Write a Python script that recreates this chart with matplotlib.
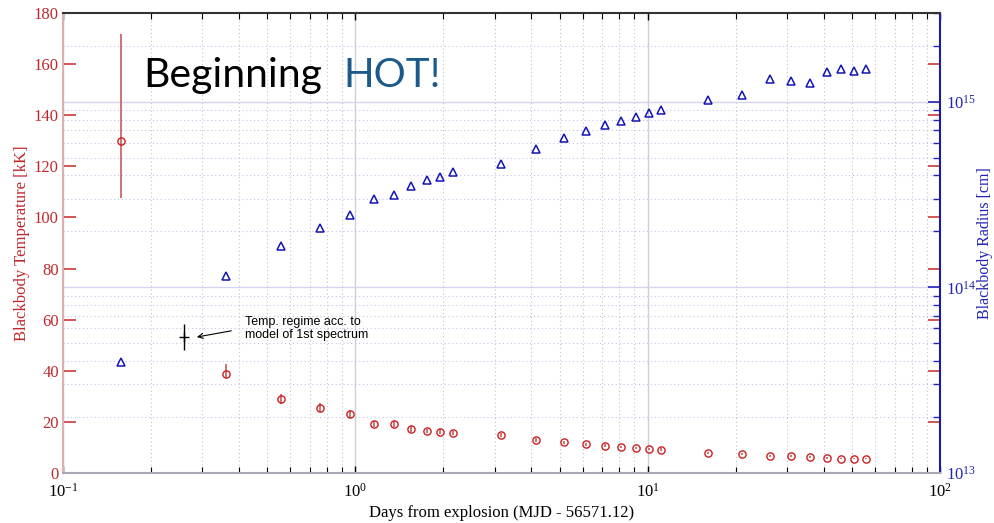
import matplotlib

matplotlib.use("Agg")

import matplotlib.pyplot as plt
from matplotlib.ticker import MultipleLocator, NullFormatter

# epochs (days since explosion)
days = [0.158, 0.360, 0.559, 0.757, 0.959, 1.159, 1.356, 1.551, 1.758, 1.948,
        2.158, 3.148, 4.147, 5.17, 6.15, 7.14, 8.10, 9.12, 10.1, 11.1,
        16.1, 21.0, 26.2, 30.9, 35.9, 41.0, 45.8, 50.8, 55.8]

# blackbody temperature [kK] with asymmetric errors
temp_kk = [130.0, 38.6, 29.0, 25.5, 23.1, 19.2, 19.2, 17.2, 16.5, 16.2,
           15.5, 14.9, 13.0, 12.0, 11.3, 10.7, 10.2, 9.7, 9.4, 9.1,
           7.8, 7.4, 6.5, 6.65, 6.26, 5.87, 5.6, 5.6, 5.6]
temp_err_lo = [22.4, 1.5, 2.0, 1.8, 1.5, 1.2, 1.2, 1.0, 0.9, 0.9,
               0.8, 0.8, 0.7, 0.6, 0.6, 0.5, 0.5, 0.5, 0.5, 0.5,
               0.4, 0.4, 0.4, 0.4, 0.4, 0.3, 0.3, 0.3, 0.3]
temp_err_hi = [41.8, 3.9, 2.0, 1.8, 1.5, 1.2, 1.2, 1.0, 0.9, 0.9,
               0.8, 0.8, 0.7, 0.6, 0.6, 0.5, 0.5, 0.5, 0.5, 0.5,
               0.4, 0.4, 0.4, 0.4, 0.4, 0.3, 0.3, 0.3, 0.3]

# blackbody radius [cm]
radius_cm = [3.96e13, 1.15e14, 1.67e14, 2.09e14, 2.45e14, 2.98e14, 3.13e14,
             3.52e14, 3.78e14, 3.93e14, 4.18e14, 4.61e14, 5.53e14, 6.34e14,
             6.92e14, 7.45e14, 7.84e14, 8.23e14, 8.65e14, 9.02e14, 1.017e15,
             1.08e15, 1.32e15, 1.29e15, 1.26e15, 1.44e15, 1.49e15, 1.46e15,
             1.49e15]

# temperature regime from the model of the first spectrum
regime_day = [0.26]
regime_temp = [53.2]
regime_err = [5.1]

RED = "#c0282d"
BLUE = "#2323b5"

plt.rcParams["font.family"] = "serif"
plt.rcParams["font.serif"] = ["Liberation Serif", "DejaVu Serif"]
plt.rcParams["mathtext.fontset"] = "stix"

fig = plt.figure(figsize=(9.95, 5.23), dpi=100)
fig.patch.set_facecolor("white")
ax = fig.add_axes([63 / 995, 50 / 523, 877 / 995, 460 / 523])
ax2 = ax.twinx()
# temperature axes on top, radius axes (with the grid) underneath
ax.set_zorder(ax2.get_zorder() + 1)
ax.patch.set_visible(False)

ax.set_xscale("log")
ax.set_xlim(0.1, 100)
ax.set_ylim(0, 180)
ax.yaxis.set_major_locator(MultipleLocator(20))
ax.xaxis.set_minor_formatter(NullFormatter())

ax2.set_yscale("log")
ax2.set_ylim(1e13, 3e15)
ax2.yaxis.set_minor_formatter(NullFormatter())

# grid lives on the lower axes
ax2.xaxis.set_visible(True)
ax2.tick_params(axis="x", which="both", bottom=False, top=False,
                labelbottom=False, labeltop=False)
ax2.grid(True, axis="x", which="major", color="#cfcfd8", lw=1.0, ls="-")
ax2.grid(True, axis="x", which="minor", color="#c4c4c8", lw=0.8, ls=(0, (1, 2.5)))
ax2.grid(True, axis="y", which="major", color="#d4d4ee", lw=1.0, ls="-")
ax2.grid(True, axis="y", which="minor", color="#c2c2e4", lw=0.8, ls=(0, (1, 2.5)))

ax2.plot(days, radius_cm, "^", ls="none", mfc="none", mec="#1414b4", ms=6, mew=1.1)

ax.errorbar(days, temp_kk, yerr=[temp_err_lo, temp_err_hi], fmt="o",
            mfc="none", mec="#cc1f1f", ms=5.2, mew=1.0,
            ecolor="#d06464", elinewidth=1.3, capsize=0)
ax.errorbar(regime_day, regime_temp, yerr=regime_err, fmt="+", color="black",
            ms=7, mew=1.0, elinewidth=1.0, capsize=0)

ax.annotate("Temp. regime acc. to\nmodel of 1st spectrum",
            xy=(0.287, 53.2), xytext=(0.4194, 61.4), textcoords="data",
            ha="left", va="top", fontsize=9, family="Liberation Sans",
            linespacing=1.05,
            arrowprops=dict(arrowstyle="->", color="black", lw=0.8,
                            relpos=(0, 0.5), shrinkA=8, shrinkB=0))

# ticks
ax.tick_params(axis="x", which="both", direction="in", top=True, bottom=True,
               color="black", labelsize=12, pad=7)
ax.tick_params(axis="x", which="major", length=5, width=1)
ax.tick_params(axis="x", which="minor", length=4, width=0.8)
ax.tick_params(axis="y", which="major", direction="in", left=True, right=True,
               length=9, width=1.2, color="#cc3a3a", labelcolor=RED,
               labelsize=12, pad=3)
ax2.tick_params(axis="y", which="major", direction="in", length=9, width=1.2,
                colors=BLUE, labelsize=12, pad=4)
ax2.tick_params(axis="y", which="minor", direction="in", length=5, width=1.0,
                colors=BLUE)

for side, col in [("left", "#ddb0b0"), ("top", "#333333"),
                  ("bottom", "#a8a8b4"), ("right", "#1c1c9e")]:
    ax.spines[side].set_color(col)
    ax.spines[side].set_linewidth(1.5)
for sp in ax2.spines.values():
    sp.set_visible(False)

ax.set_ylabel("Blackbody Temperature [kK]", color=RED, fontsize=12, labelpad=3)
ax2.set_ylabel("Blackbody Radius [cm]", color=BLUE, fontsize=11.5, labelpad=1)
ax.set_xlabel("Days from explosion (MJD - 56571.12)", fontsize=12, labelpad=3)

fig.text(143 / 995, 1 - 87 / 523, "Beginning", fontsize=29.5, family="Lato",
         color="black", ha="left", va="baseline")
fig.text(343 / 995, 1 - 87 / 523, "HOT!", fontsize=29, family="Lato",
         color="#1b5a8a", ha="left", va="baseline")

fig.savefig("out.png", dpi=100)
